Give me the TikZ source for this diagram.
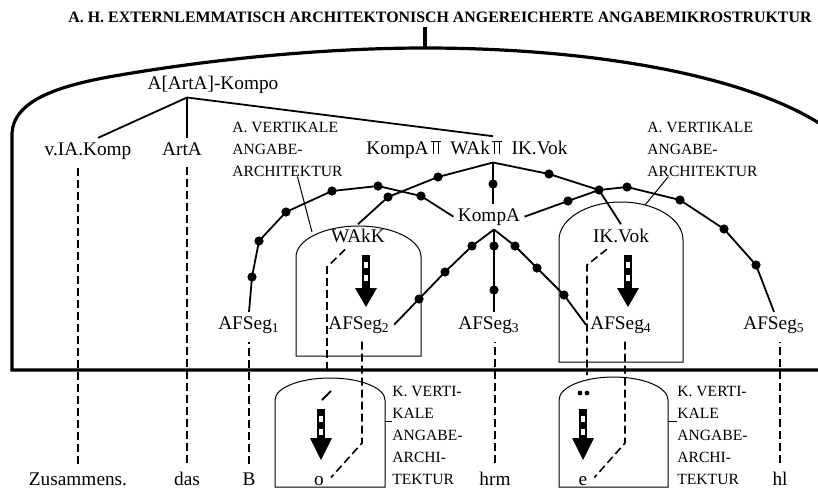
\documentclass[tikz,border=0pt]{standalone}
\usepackage{fontspec}
\setmainfont{Liberation Serif}
\usetikzlibrary{positioning}

% doppelter Verbindungsstrich (TT)
\newcommand{\dtack}{\kern.12em\makebox[.55em][l]{\rule[.63em]{.52em}{.055em}\kern-.42em\rule{.055em}{.66em}\kern.2em\rule{.055em}{.66em}}\hspace{.45em}}
% gestreifter Pfeil: x, oben, Kopfansatz, unten
\newcommand{\streifpfeil}[4]{%
  \draw[line width=3.6pt] (#1,#2) -- (#1,#3);
  \draw[white, line width=2.4pt, dash pattern=on 3.3pt off 3.3pt, dash phase=3.3pt] (#1,#2) -- (#1,#3);
  \fill (#1-11,#3) -- (#1+11,#3) -- (#1,#4) -- cycle;}

\begin{document}
\begin{tikzpicture}[x=0.5pt, y=-0.5pt]
\tikzstyle{lbl}=[font=\fontsize{9.65}{11}\selectfont, inner sep=2pt, anchor=base]
\tikzstyle{titel}=[font=\fontsize{7.95}{10}\selectfont\bfseries, inner sep=2pt, anchor=base]
\tikzstyle{klein}=[font=\fontsize{7.8}{10.9}\selectfont, align=left, inner sep=0pt, anchor=base west]
\tikzstyle{ast}=[line width=0.9pt]
\tikzstyle{rahmen}=[line width=0.5pt]
\tikzstyle{dick}=[line width=1.6pt]
\tikzstyle{strich}=[line width=0.8pt, dash pattern=on 4pt off 2pt, shorten <=2pt, shorten >=2pt]

\clip (0,0) rectangle (818,488);

% Titel und grosser Bogen
\coordinate (arctop) at (425,48);
\node[titel] (titel) at (440,22) {A. H. EXTERNLEMMATISCH ARCHITEKTONISCH ANGEREICHERTE ANGABEMIKROSTRUKTUR};
\draw[dick] (titel.south -| arctop) -- (arctop);
\draw[dick] (818,370) -- (12,370) -- (12,135) .. controls (12,100) and (60,85) .. (120,75)
  .. controls (220,58) and (330,48) .. (arctop) .. controls (580,48) and (740,72) .. (822,125);

% Knoten oben
\node[lbl] (akompo) at (213,89) {A[ArtA]-Kompo};
\node[lbl] (viak) at (88,155) {v.IA.Komp};
\node[lbl] (arta) at (182,155) {ArtA};
\node[lbl] (oben) at (467,154) {KompA\dtack WAk\dtack IK.Vok};
\node[lbl] (kompa) at (489,221) {KompA};
\node[lbl] (wakk) at (358,242) {WAkK};
\node[lbl] (ikvok) at (621,242) {IK.Vok};

\node[lbl] (afs1) at (249,329) {AFSeg\textsubscript{1}};
\node[lbl] (afs2) at (359,329) {AFSeg\textsubscript{2}};
\node[lbl] (afs3) at (489,329) {AFSeg\textsubscript{3}};
\node[lbl] (afs4) at (621,329) {AFSeg\textsubscript{4}};
\node[lbl] (afs5) at (774,329) {AFSeg\textsubscript{5}};

% Beschriftungen (Basislinie der letzten Zeile)
\node[klein] (avl) at (232,176) {A. VERTIKALE\\ANGABE-\\ARCHITEKTUR};
\node[klein] (avr) at (647,176) {A. VERTIKALE\\ANGABE-\\ARCHITEKTUR};
\node[klein] (kvl) at (392,484) {K. VERTI-\\KALE\\ANGABE-\\ARCHI-\\TEKTUR};
\node[klein] (kvr) at (677,484) {K. VERTI-\\KALE\\ANGABE-\\ARCHI-\\TEKTUR};

% Woerter unten
\node[lbl] (zus) at (78,485) {Zusammens.};
\node[lbl] (das) at (187,485) {das};
\node[lbl] (b) at (249,485) {B};
\node[lbl] (o) at (319,485) {o};
\node[lbl] (hrm) at (495,485) {hrm};
\node[lbl] (e) at (583,485) {e};
\node[lbl] (hl) at (780,485) {hl};

\coordinate (akgab) at ([xshift=-13pt]akompo.south);
\coordinate (obgab) at ([xshift=13pt]oben.south);
\coordinate (kgab) at ([xshift=2.5pt]kompa.south);

% Baum
\draw[ast] (akgab) -- ([xshift=5pt]viak.north);
\draw[ast] (akgab) -- (akgab |- arta.north);
\draw[ast] (akgab) -- ([xshift=13pt]oben.north);

\draw[ast] (afs1.north) -- (252,277) -- (259,241) -- (286,212) -- (332,191) -- (378,186) -- (421,196) -- (kompa.west);
\draw[ast] (kompa.east) -- (568,201) -- (599,190) -- (627,187) -- (680,200) -- (724,229) -- (756,265) -- (afs5.north);
\draw[ast] (obgab) -- (438,177) -- (388,197) -- (wakk.north);
\draw[ast] (obgab) -- (obgab |- kompa.north);
\draw[ast] (obgab) -- (549,174) -- (599,190) -- (ikvok.north);
\draw[ast] (kgab) -- (472,246) -- (445,272) -- (419,299) -- (afs2.east);
\draw[ast] (kgab) -- (kgab |- afs3.north);
\draw[ast] (kgab) -- (515,246) -- (537,268) -- (564,295) -- (afs4.west);

\foreach \p in {(252,277),(259,241),(286,212),(332,191),(378,186),(421,196),
  (568,201),(599,190),(627,187),(680,200),(724,229),(756,265),
  (438,177),(388,197),(493,184),(549,174),
  (472,246),(445,272),(419,299),(494,246),(494,290),(515,246),(537,268),(564,295)}
  \fill \p circle[radius=2.3pt];

% Architektur-Kaesten
\draw[rahmen] (296,356) -- (296,257) arc[start angle=180, end angle=360, x radius=62.5, y radius=31] -- (421,356) -- cycle;
\draw[rahmen] (559,362) -- (559,240) arc[start angle=180, end angle=360, x radius=62, y radius=38] -- (683,362) -- cycle;
\draw[rahmen] (275,487) -- (275,400) arc[start angle=180, end angle=360, x radius=55, y radius=22] -- (385,487) -- cycle;
\draw[rahmen] (559,487) -- (559,400) arc[start angle=180, end angle=360, x radius=54.5, y radius=23] -- (668,487) -- cycle;

\draw[rahmen] ([xshift=5pt]avl.south) -- (312,232);
\draw[rahmen] ([xshift=-17pt]avr.south) -- (645,205);
\draw[rahmen] (kvl.west |- 0,421) -- (385,421);
\draw[rahmen] (kvr.west |- 0,421) -- (668,421);

\streifpfeil{366}{255}{288}{307}
\streifpfeil{628}{255}{288}{307}
\streifpfeil{321}{409}{438}{460}
\streifpfeil{583}{409}{438}{460}
\draw[ast] (322,400) -- (331,391);
\fill (580,393) circle[radius=1.2pt] (587,393) circle[radius=1.2pt];

% gestrichelte Zuordnungen
\draw[strich] ([xshift=-5pt]wakk.south) -- (327,267) -- (327,377);
\draw[strich] ([xshift=1.5pt]afs2.south) -- (362,443) -- (o.east);
\draw[strich] ([xshift=-5.5pt]ikvok.south) -- (587,265) -- (587,379);
\draw[strich] ([xshift=2pt]afs4.south) -- (625,443) -- (e.east);
\draw[strich] (zus.north) -- (zus.north |- viak.south);
\draw[strich] (das.north) -- (das.north |- arta.south);
\draw[strich] (b.north) -- (b.north |- afs1.south);
\draw[strich] (hrm.north) -- (hrm.north |- afs3.south);
\draw[strich] (hl.north) -- (hl.north |- afs5.south);
\end{tikzpicture}
\end{document}
